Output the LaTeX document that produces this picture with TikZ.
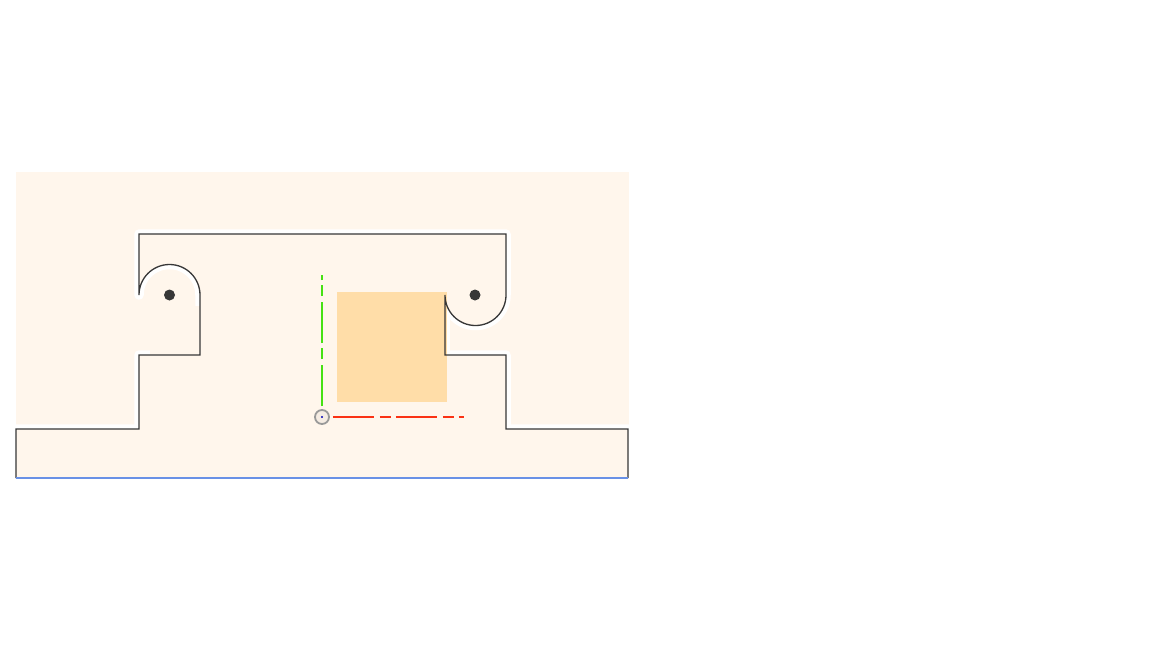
\documentclass[tikz,border=0pt]{standalone}
\usepackage{xcolor}
\usepackage{tikz}
\definecolor{c_sheet}{RGB}{255,246,236}
\definecolor{c_square}{RGB}{255,221,168}
\definecolor{c_edge}{RGB}{55,55,55}
\definecolor{c_pin}{RGB}{55,55,55}
\definecolor{c_base}{RGB}{105,145,230}
\definecolor{c_x}{RGB}{250,50,20}
\definecolor{c_y}{RGB}{70,225,20}
\tikzset{x=1pt, y=-1pt,
outline/.style={draw=c_edge, line width=1.3pt, line join=miter},
halo/.style={draw=white, line width=9.5pt, line cap=round, line join=round},
pin/.style={circle, fill=c_pin, minimum size=11pt, inner sep=0pt},
origin-mark/.style={circle, draw=black!40, fill=c_sheet!96!black, line width=1.8pt, minimum size=14pt, inner sep=0pt},
axis-x/.style={draw=c_x, line width=2.4pt, shorten <=3pt, dash pattern=on 41pt off 6pt on 11pt off 5pt},
axis-y/.style={draw=c_y, line width=2.4pt, shorten <=3pt, dash pattern=on 41pt off 6pt on 11pt off 5pt}}
\newcommand{\profile}{(16,478) -- (16,429) -- (139,429) -- (139,355) -- (200,355) -- (200,295)
arc[start angle=0, end angle=180, radius=30.5pt] -- (139,234) -- (506,234) -- (506,295)
arc[start angle=0, end angle=-180, radius=30.5pt] -- (445,355) -- (506,355) -- (506,429)
-- (628,429) -- (628,478)}
\begin{document}
\begin{tikzpicture}
\useasboundingbox (0,0) rectangle (1152,648);
\fill [c_sheet] (16,172) rectangle (629,478);
% white rim, inner half hidden by the fill after it
\draw [halo] \profile;
\fill [c_sheet] \profile -- cycle;
% no rim in the left notch
\fill [c_sheet] (150,306) rectangle (200,355);
\fill [c_square] (337,292) rectangle (447,402);
\draw [outline] \profile;
\draw [draw=c_base, line width=1.4pt] (16,478) -- (628,478);
\node (pinL) [pin] at (169.5,295) {};
\node (pinR) [pin] at (475,295) {};
\node (origin) [origin-mark] at (322,417) {};
\fill [blue!70!black] (origin) circle (1.2pt);
\coordinate (xtip) at (464,417);
\coordinate (ytip) at (322,275);
\draw [axis-x] (origin) -- (xtip);
\draw [axis-y] (origin) -- (ytip);
\end{tikzpicture}
\end{document}
